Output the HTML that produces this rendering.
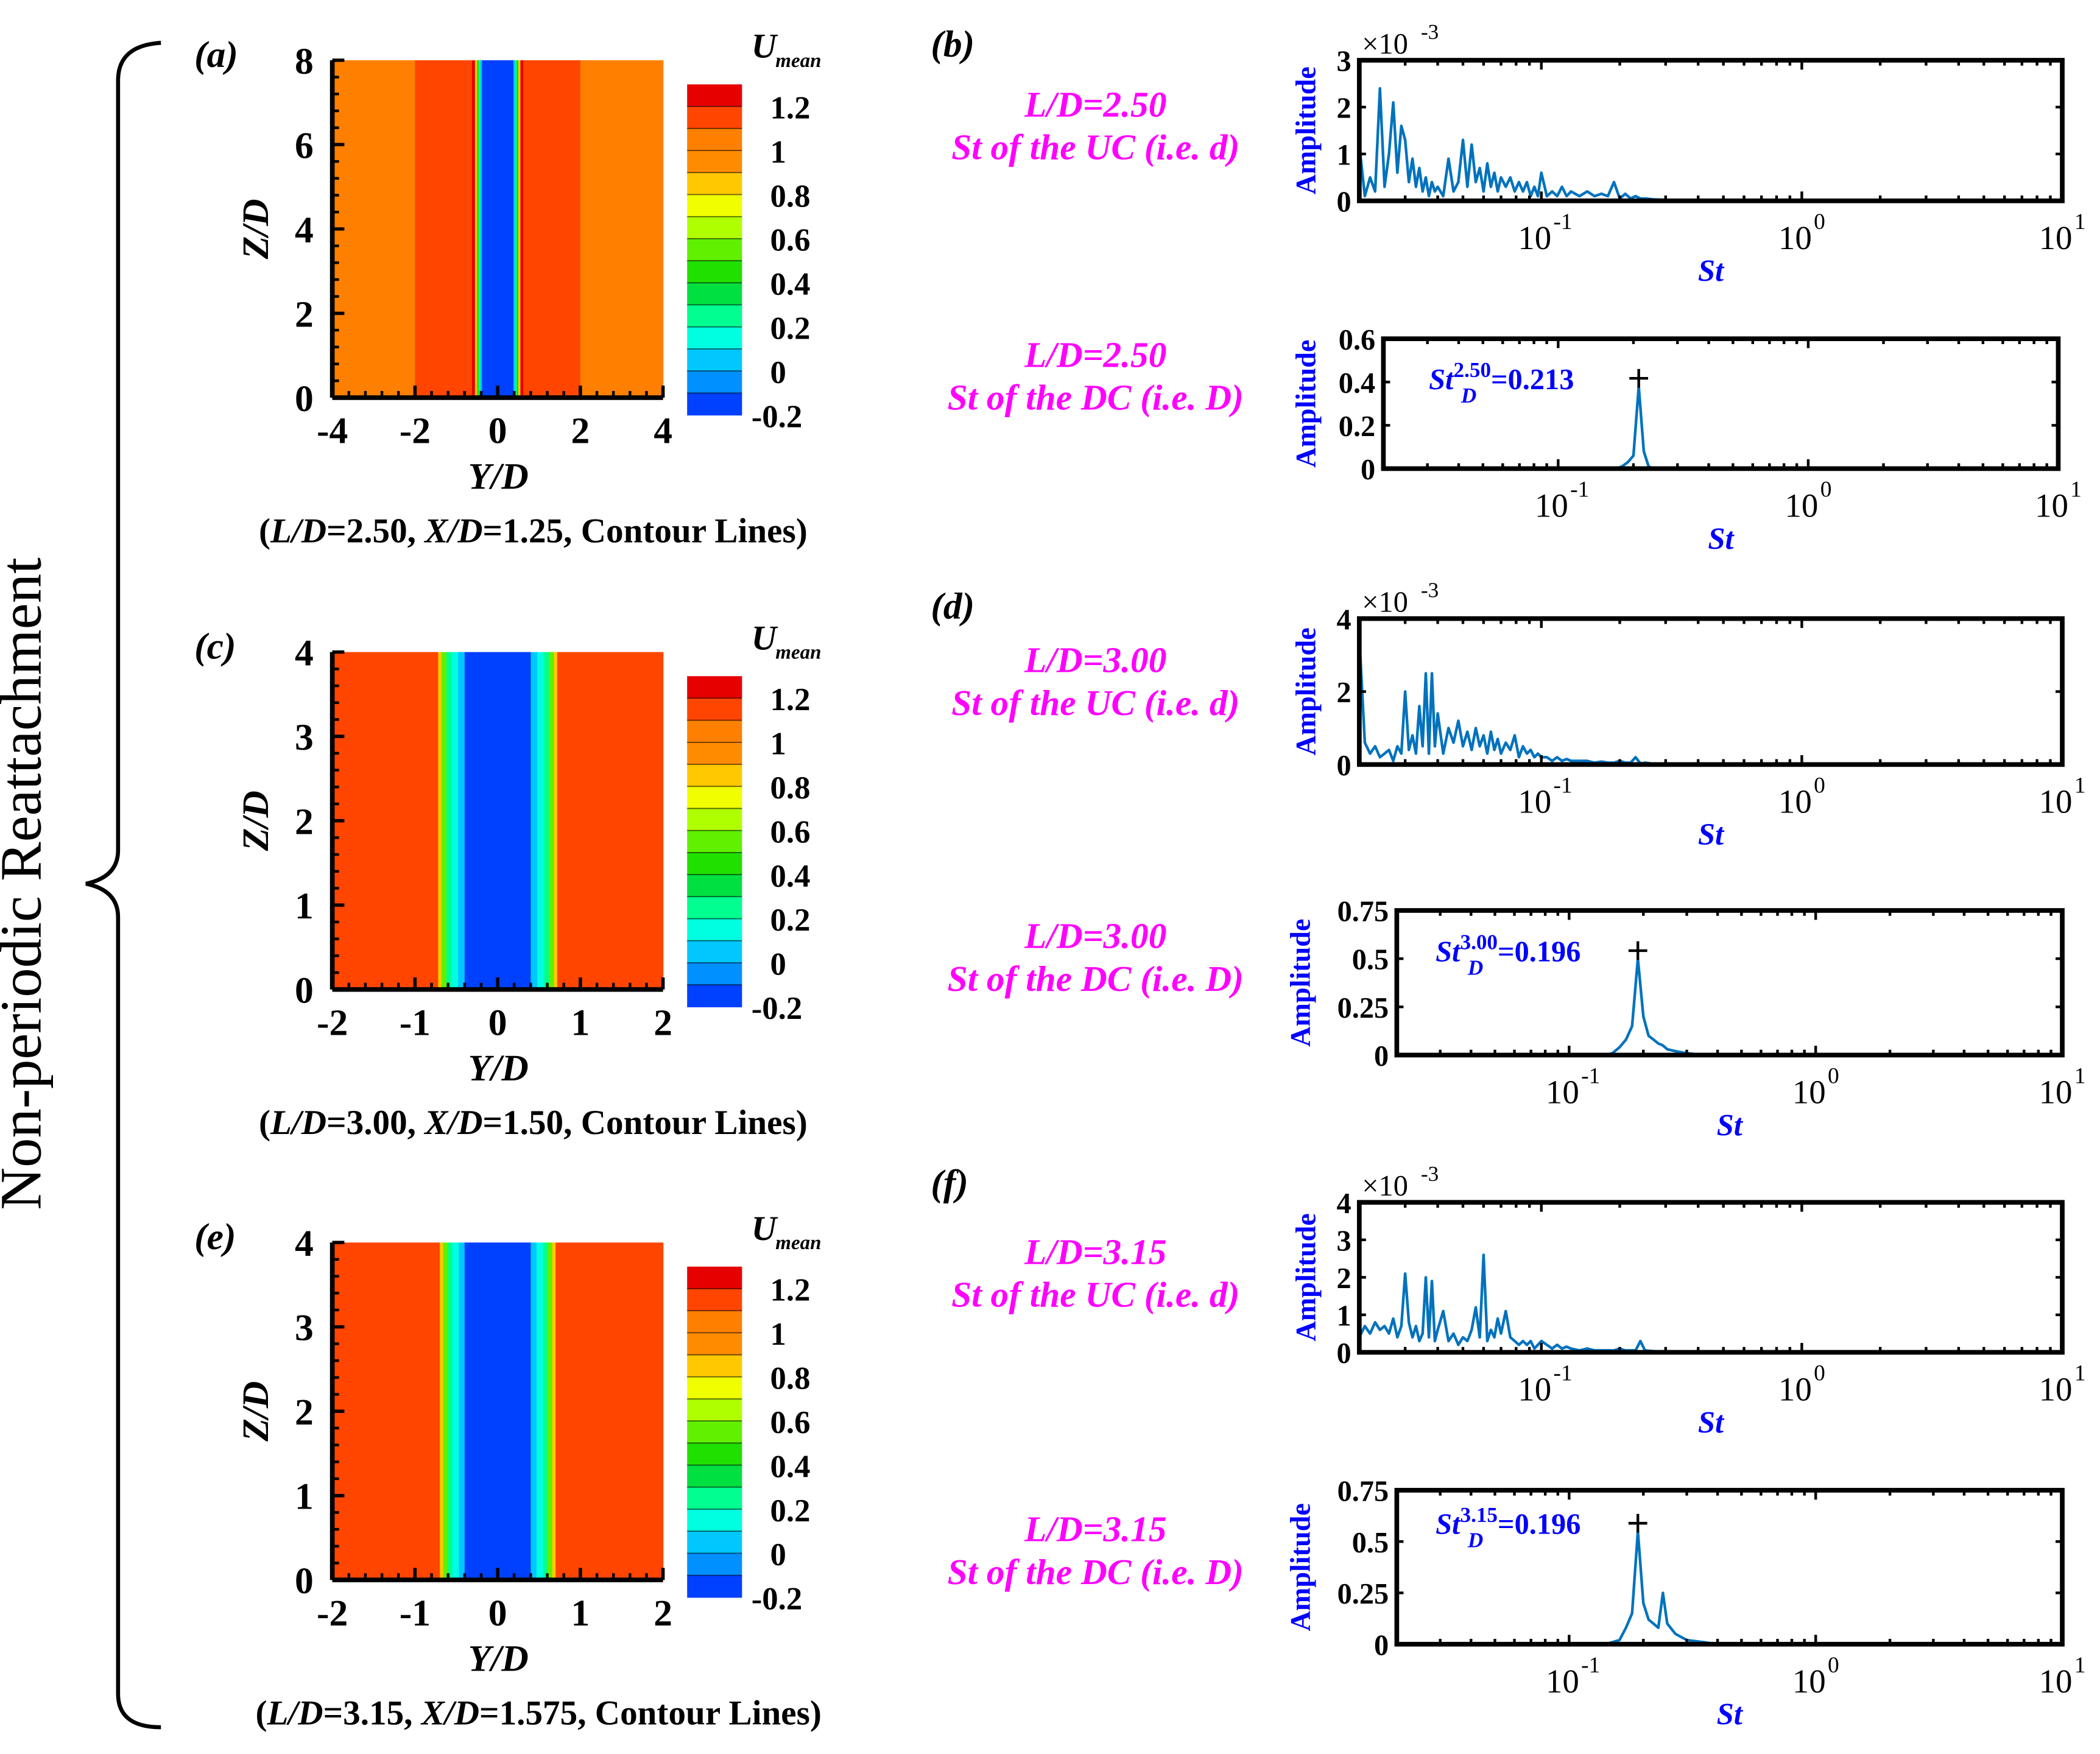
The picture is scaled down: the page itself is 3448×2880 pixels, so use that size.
<!DOCTYPE html>
<html><head><meta charset="utf-8">
<style>
html,body{margin:0;padding:0;background:#fff;}
svg{display:block;}
text{font-family:"Liberation Serif",serif;font-weight:bold;}
</style></head>
<body>
<svg id="fig" width="3448" height="2880" viewBox="0 0 1568 1310" xmlns="http://www.w3.org/2000/svg">
<rect x="0" y="0" width="1568" height="1310" fill="#fff"/>
<path d="M120,32 Q88,34 88,60 L88,635 Q88,655 64,660 Q88,665 88,685 L88,1265 Q88,1290 120,1290" fill="none" stroke="#000" stroke-width="3"/>
<text x="30" y="660" transform="rotate(-90 30 660)" text-anchor="middle" font-size="44" style="font-weight:normal">Non-periodic  Reattachment</text>
</svg>
<script>
// ---------- data ----------
const st = [0.020,0.021,0.022,0.023,0.024,0.025,0.026,0.027,0.028,0.029,0.030,0.031,0.032,0.033,0.034,0.035,0.036,0.037,0.038,0.039,0.040,0.042,0.044,0.046,0.048,0.050,0.052,0.054,0.056,0.058,0.060,0.062,0.064,0.066,0.068,0.070,0.073,0.076,0.079,0.082,0.085,0.088,0.091,0.094,0.097,0.100,0.105,0.110,0.115,0.120,0.125,0.130,0.140,0.150,0.160,0.170,0.180,0.190,0.200,0.210,0.220,0.230,0.240,0.250,0.270,0.300,0.350,0.400,0.500,1.0,2.0,5.0,10.0];
const ampB1 = [1.2,0.1,0.5,0.2,2.4,0.3,1.0,2.1,0.6,1.6,1.3,0.4,0.9,0.3,0.7,0.2,0.5,0.1,0.4,0.2,0.3,0.1,0.9,0.2,0.4,1.3,0.3,1.2,0.4,0.7,0.2,0.8,0.3,0.6,0.2,0.5,0.3,0.5,0.2,0.4,0.2,0.4,0.1,0.3,0.1,0.6,0.1,0.2,0.1,0.3,0.1,0.2,0.1,0.2,0.1,0.15,0.1,0.4,0.05,0.15,0.05,0.1,0.05,0.05,0.03,0.02,0.01,0.01,0.01,0.01,0.01,0.01,0.01];
const ampB2 = [0,0,0,0,0,0,0,0,0,0,0,0,0,0,0,0,0,0,0,0,0,0,0,0,0,0,0,0,0,0,0,0,0,0,0,0,0,0,0,0,0,0,0,0,0,0,0,0,0,0,0,0,0,0,0,0,0.01,0.03,0.06,0.38,0.08,0.01,0,0,0,0,0,0,0,0,0,0,0];
const ampD1 = [3.5,0.6,0.3,0.5,0.2,0.3,0.4,0.1,0.5,0.3,2.0,0.4,0.8,0.3,1.6,0.5,2.5,0.3,2.5,0.5,1.4,0.3,1.0,0.6,1.2,0.5,0.9,0.4,1.0,0.5,0.8,0.3,0.9,0.4,0.7,0.3,0.6,0.4,0.8,0.2,0.5,0.3,0.4,0.2,0.3,0.2,0.2,0.1,0.2,0.1,0.15,0.1,0.1,0.1,0.05,0.08,0.05,0.05,0.1,0.05,0.05,0.2,0.03,0.05,0.02,0.02,0.01,0.01,0.01,0.01,0.01,0.01,0.01];
const ampD2 = [0,0,0,0,0,0,0,0,0,0,0,0,0,0,0,0,0,0,0,0,0,0,0,0,0,0,0,0,0,0,0,0,0,0,0,0,0,0,0,0,0,0,0,0,0,0,0,0,0,0,0,0,0,0.01,0.04,0.08,0.15,0.5,0.2,0.1,0.08,0.06,0.05,0.03,0.02,0.01,0,0,0,0,0,0,0];
const ampF1 = [0.4,0.7,0.5,0.8,0.6,0.7,0.5,0.9,0.4,0.7,2.1,0.8,0.4,0.7,0.3,0.5,2.0,0.4,1.9,0.3,0.6,1.1,0.3,0.5,0.2,0.4,0.3,0.6,1.2,0.4,2.6,0.3,0.6,0.4,0.9,0.5,1.1,0.4,0.3,0.2,0.3,0.2,0.3,0.1,0.2,0.3,0.2,0.1,0.2,0.1,0.15,0.1,0.05,0.1,0.05,0.05,0.05,0.05,0.1,0.05,0.05,0.05,0.3,0.05,0.03,0.02,0.01,0.01,0.01,0.01,0.01,0.01,0.01];
const ampF2 = [0,0,0,0,0,0,0,0,0,0,0,0,0,0,0,0,0,0,0,0,0,0,0,0,0,0,0,0,0,0,0,0,0,0,0,0,0,0,0,0,0,0,0,0,0,0,0,0,0,0,0,0,0,0.01,0.02,0.08,0.15,0.55,0.2,0.12,0.1,0.08,0.25,0.1,0.05,0.02,0.01,0,0,0,0,0,0];
const yTicksUC3 = ['0','1','2','3'];
const yTicksUC4 = ['0','2','4'];
const yTicksUC4b = ['0','1','2','3','4'];
const yTicksDC06 = ['0','0.2','0.4','0.6'];
const yTicksDC075 = ['0','0.25','0.5','0.75'];
const profA_Y = [-4,-2,-0.62,-0.55,-0.5,-0.46,-0.42,-0.38,0.38,0.42,0.46,0.5,0.55,0.62,2,4];
const profA_U = [1.05,1.15,1.25,0.85,0.5,0.25,0.05,-0.1,0.05,0.25,0.5,0.85,1.25,1.15,1.05];
const profC_Y = [-2,-0.72,-0.68,-0.62,-0.56,-0.48,-0.4,0.4,0.48,0.56,0.62,0.68,0.72,2];
const profC_U = [1.15,0.9,0.6,0.3,0.15,0.02,-0.1,0.02,0.15,0.3,0.6,0.9,1.15];
const profE_Y = [-2,-0.7,-0.66,-0.6,-0.55,-0.47,-0.4,0.4,0.47,0.55,0.6,0.66,0.7,2];
const profE_U = [1.15,0.9,0.6,0.3,0.15,0.02,-0.1,0.02,0.15,0.3,0.6,0.9,1.15];
const cbLabels = ['1.2','1','0.8','0.6','0.4','0.2','0','-0.2'];
const cbColors = ['#e60000','#ff4500','#ff8000','#ff8c00','#ffc800','#f0ff00','#b0ff00','#60f000','#20e000','#00e040','#00ff90','#00ffe0','#00c8ff','#0090ff','#0040ff'];

// ---------- helpers ----------
const NS='http://www.w3.org/2000/svg';
const svg=document.getElementById('fig');
function mk(tag,attrs,parent){const e=document.createElementNS(NS,tag);for(const k in attrs)e.setAttribute(k,attrs[k]);(parent||svg).appendChild(e);return e;}
function txt(x,y,s,size,extra,parent){const e=mk('text',Object.assign({x:x,y:y,'font-size':size},extra||{}),parent);e.textContent=s;return e;}
function span(t,s,it){const e=document.createElementNS(NS,'tspan');if(it)e.setAttribute('font-style','italic');e.textContent=s;t.appendChild(e);}
function colorFor(u){let i=Math.floor((1.3-u)/0.1);if(i<0)i=0;if(i>14)i=14;return cbColors[i];}

// ---------- contour panels ----------
function contour(cfg){
  const g=mk('g',{});
  
  
  const L=248,R=495,T=cfg.top,B=cfg.top+252;
  const sx=v=>L+(v-cfg.ymin)/(cfg.ymax-cfg.ymin)*(R-L);
  const sy=v=>B-(v-cfg.zmin)/(cfg.zmax-cfg.zmin)*(B-T);
  for(let i=0;i<cfg.U.length;i++){
    const r=mk('rect',{x:sx(cfg.Y[i]),y:T,width:sx(cfg.Y[i+1])-sx(cfg.Y[i])+0.3,height:B-T,fill:colorFor(cfg.U[i])},g);
    
    
  }
  mk('line',{x1:L,y1:B,x2:R,y2:B,stroke:'#000','stroke-width':3.5},g);
  mk('line',{x1:L,y1:T,x2:L,y2:B,stroke:'#000','stroke-width':3.5},g);
  const xstep=cfg.xstep, nMinor=4;
  for(let v=cfg.ymin;v<=cfg.ymax+1e-9;v+=xstep){
    mk('line',{x1:sx(v),y1:B,x2:sx(v),y2:B-9,stroke:'#000','stroke-width':2.5},g);
    const lb=txt(sx(v),B+34,String(Math.round(v*10)/10),28,{'text-anchor':'middle'},g);
    
    
    if(v<cfg.ymax-1e-9)for(let k=1;k<=nMinor;k++){const m=v+k*xstep/(nMinor+1);mk('line',{x1:sx(m),y1:B,x2:sx(m),y2:B-5,stroke:'#000','stroke-width':2},g);}
  }
  for(let v=cfg.zmin;v<=cfg.zmax+1e-9;v+=cfg.zstep){
    mk('line',{x1:L,y1:sy(v),x2:L+9,y2:sy(v),stroke:'#000','stroke-width':2.5},g);
    const lb=txt(L-14,sy(v)+10,String(v),28,{'text-anchor':'end'},g);
    
    
    if(v<cfg.zmax-1e-9)for(let k=1;k<=nMinor;k++){const m=v+k*cfg.zstep/(nMinor+1);mk('line',{x1:L,y1:sy(m),x2:L+5,y2:sy(m),stroke:'#000','stroke-width':2},g);}
  }
  const xt=txt(372,B+68,'Y/D',28,{'text-anchor':'middle','font-style':'italic'},g);
  
  const yt=txt(200,(T+B)/2,'Z/D',28,{'text-anchor':'middle','font-style':'italic',transform:'rotate(-90 200 '+((T+B)/2)+')'},g);
  
  const cap=mk('text',{x:cfg.capX,y:B+108,'font-size':26,'text-anchor':'middle'},g);
  
  span(cap,'(');span(cap,'L/D',true);span(cap,'='+cfg.cap[0]+', ');span(cap,'X/D',true);span(cap,'='+cfg.cap[1]+', Contour Lines)');
  const pl=txt(145,cfg.top+5,cfg.label,28,{'font-style':'italic'},g);
  
  const cT=cfg.top+18,cB=cfg.top+265,cL=513,cR=554,bh=(cB-cT)/15;
  for(let i=0;i<15;i++){
    const r=mk('rect',{x:cL,y:cT+i*bh,width:cR-cL,height:bh+0.3,fill:cbColors[i]},g);
    
    if(i>0)mk('line',{x1:cL,y1:cT+i*bh,x2:cR,y2:cT+i*bh,stroke:'#000','stroke-width':0.8,'stroke-opacity':0.6},g);
  }
  cbLabels.forEach((s,j)=>{const y=cT+(1+2*j)*bh;const t=txt(s.startsWith('-')?561:575,y+9,s,24,{},g);});
  const ct=txt(561,cfg.top-2,'U',26,{'font-style':'italic'},g);
  
  txt(579,cfg.top+5,'mean',15,{'font-style':'italic'},g);
}
contour({name:'contour-panel-a',top:45,ymin:-4,ymax:4,xstep:2,zmin:0,zmax:8,zstep:2,Y:profA_Y,U:profA_U,label:'(a)',cap:['2.50','1.25'],capX:398});
contour({name:'contour-panel-c',top:487,ymin:-2,ymax:2,xstep:1,zmin:0,zmax:4,zstep:1,Y:profC_Y,U:profC_U,label:'(c)',cap:['3.00','1.50'],capX:398});
contour({name:'contour-panel-e',top:928,ymin:-2,ymax:2,xstep:1,zmin:0,zmax:4,zstep:1,Y:profE_Y,U:profE_U,label:'(e)',cap:['3.15','1.575'],capX:402});

// ---------- magenta labels & panel labels ----------
[['(b)',42],['(d)',462],['(f)',893]].forEach(p=>{const t=txt(695,p[1],p[0],28,{'font-style':'italic'});});
[[78,'L/D=2.50','St of the UC (i.e. d)'],[265,'L/D=2.50','St of the DC (i.e. D)'],[493,'L/D=3.00','St of the UC (i.e. d)'],[699,'L/D=3.00','St of the DC (i.e. D)'],[935,'L/D=3.15','St of the UC (i.e. d)'],[1142,'L/D=3.15','St of the DC (i.e. D)']].forEach(a=>{
  const t1=txt(818,a[0]+9,a[1],27,{'text-anchor':'middle','font-style':'italic',fill:'#ff00ff'});
  
  const t2=txt(818,a[0]+41,a[2],27,{'text-anchor':'middle','font-style':'italic',fill:'#ff00ff'});
  
});

// ---------- spectra ----------
function spectrum(cfg){
  const g=mk('g',{});
  
  
  const L=cfg.L,R=cfg.R,T=cfg.T,B=cfg.B;
  const xmin=Math.log10(0.02),xmax=1;
  const sx=v=>L+(Math.log10(v)-xmin)/(xmax-xmin)*(R-L);
  const sy=v=>B-v/cfg.ymax*(B-T);
  let d='';
  cfg.amp.forEach((a,i)=>{d+=(i?'L':'M')+sx(st[i]).toFixed(2)+','+sy(a).toFixed(2);});
  const p=mk('path',{d:d,fill:'none',stroke:'#0072BD','stroke-width':2,'stroke-linejoin':'round'},g);
  
  mk('rect',{x:L,y:T,width:R-L,height:B-T,fill:'none',stroke:'#000','stroke-width':3.5},g);
  for(let e=-2;e<=0;e++)for(let m=1;m<=9;m++){const v=m*Math.pow(10,e);if(v<0.02||v>10)continue;const x=sx(v);const len=m===1?7:4;
    mk('line',{x1:x,y1:B,x2:x,y2:B-len,stroke:'#000','stroke-width':2},g);mk('line',{x1:x,y1:T,x2:x,y2:T+len,stroke:'#000','stroke-width':2},g);}
  [[-1,0.1],[0,1],[1,10]].forEach(q=>{const x=sx(q[1]);const t=txt(x-5,B+36,'10',25,{'text-anchor':'middle','style':'font-weight:normal'},g);txt(x+9,B+21,String(q[0]),17,{'style':'font-weight:normal'},g);});
  cfg.yt.forEach(s=>{const v=parseFloat(s);const y=sy(v);
    mk('line',{x1:L,y1:y,x2:L+5,y2:y,stroke:'#000','stroke-width':2},g);mk('line',{x1:R,y1:y,x2:R-5,y2:y,stroke:'#000','stroke-width':2},g);
    const t=txt(L-6,y+8,s,22,{'text-anchor':'end'},g);});
  const xt=txt((L+R)/2+(cfg.stdx||0),B+60,'St',23,{'text-anchor':'middle','font-style':'italic',fill:'#0000ff'},g);
  
  const ax=cfg.ax,ay=(T+B)/2;
  const yt=txt(ax,ay,'Amplitude',21,{'text-anchor':'middle',fill:'#0000ff',transform:'rotate(-90 '+ax+' '+ay+')'},g);
  
  if(cfg.exp){const t=txt(L+2,T-5,'×10',22,{'style':'font-weight:normal'},g);txt(L+46,T-16,'-3',16,{'style':'font-weight:normal'},g);}
  if(cfg.peak){
    const pi=cfg.amp.indexOf(Math.max.apply(null,cfg.amp));
    const px=sx(st[pi]),py=sy(cfg.amp[pi])-6;
    const mkp=mk('path',{d:'M'+(px-7)+','+py+'H'+(px+7)+'M'+px+','+(py-7)+'V'+(py+7),stroke:'#000','stroke-width':2},g);
    
    const t=mk('text',{x:cfg.annX,y:py+8,'font-size':22,fill:'#0000ff'},g);
    
    const a=document.createElementNS(NS,'tspan');a.setAttribute('font-style','italic');a.textContent='St';t.appendChild(a);
    const b=document.createElementNS(NS,'tspan');b.setAttribute('dy','-9');b.setAttribute('font-size','16');b.textContent=cfg.peak[0];t.appendChild(b);
    const c=document.createElementNS(NS,'tspan');c.setAttribute('dy','9');c.textContent='='+cfg.peak[1];t.appendChild(c);
    txt(cfg.annX+24,py+18,'D',16,{'font-style':'italic',fill:'#0000ff'},g);
  }
}
spectrum({name:'spectrum-b-uc',L:1015,R:1540,T:45,B:150,ymax:3,amp:ampB1,yt:yTicksUC3,ax:982,exp:true});
spectrum({name:'spectrum-b-dc',L:1033,R:1537,T:253,B:350,ymax:0.6,amp:ampB2,yt:yTicksDC06,ax:982,peak:['2.50','0.213'],annX:1067,stdx:0});
spectrum({name:'spectrum-d-uc',L:1015,R:1540,T:462,B:571,ymax:4,amp:ampD1,yt:yTicksUC4,ax:982,exp:true});
spectrum({name:'spectrum-d-dc',L:1043,R:1540,T:680,B:788,ymax:0.75,amp:ampD2,yt:yTicksDC075,ax:978,peak:['3.00','0.196'],annX:1072,stdx:0});
spectrum({name:'spectrum-f-uc',L:1015,R:1540,T:898,B:1010,ymax:4,amp:ampF1,yt:yTicksUC4b,ax:982,exp:true});
spectrum({name:'spectrum-f-dc',L:1043,R:1540,T:1113,B:1228,ymax:0.75,amp:ampF2,yt:yTicksDC075,ax:978,peak:['3.15','0.196'],annX:1072,stdx:0});
</script>
</body></html>
